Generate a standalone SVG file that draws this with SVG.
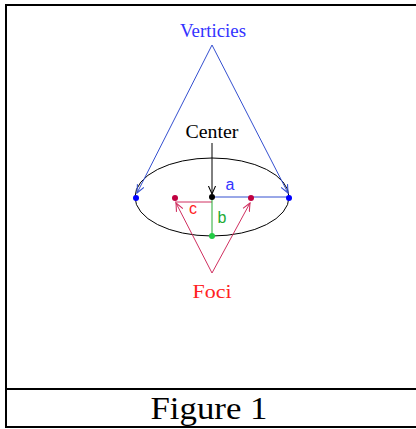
<svg xmlns="http://www.w3.org/2000/svg" width="416" height="429" viewBox="0 0 416 429">
<style>
.serif{font-family:"Liberation Serif","Times New Roman",serif}
.sans{font-family:"Liberation Sans",Arial,sans-serif}
.blue{stroke:#3550d0;fill:none;stroke-width:1}
.red{stroke:#d03060;fill:none;stroke-width:1}
</style>
<defs>
<marker id="ab" viewBox="0 0 10 10" refX="9" refY="5" markerWidth="9" markerHeight="9" orient="auto" markerUnits="userSpaceOnUse"><path d="M0,1 L9,5 L0,9" fill="none" stroke="#3550d0" stroke-width="1.2"/></marker>
<marker id="ar" viewBox="0 0 10 10" refX="9" refY="5" markerWidth="9" markerHeight="9" orient="auto" markerUnits="userSpaceOnUse"><path d="M0,1 L9,5 L0,9" fill="none" stroke="#d03060" stroke-width="1.2"/></marker>
<marker id="ak" viewBox="0 0 10 10" refX="9" refY="5" markerWidth="9" markerHeight="9" orient="auto" markerUnits="userSpaceOnUse"><path d="M0,1 L9,5 L0,9" fill="none" stroke="#000" stroke-width="1.2"/></marker>
</defs>
<rect x="0" y="0" width="416" height="429" fill="#fff"/>
<g id="frame" fill="none" stroke="#000" stroke-width="2">
<path d="M6,428 L6,5 L417,5"/>
<path d="M6,389 L417,389"/>
<path d="M6,427 L417,427"/>
</g>
<g id="ellipse"><ellipse cx="212" cy="197" rx="77" ry="39" fill="none" stroke="#000" stroke-width="1"/></g>
<g id="connectors">
<path class="blue" d="M212,45 L137,193" marker-end="url(#ab)"/>
<path class="blue" d="M212,45 L288,193" marker-end="url(#ab)"/>
<path d="M212,143 L212,194" stroke="#000" fill="none" marker-end="url(#ak)"/>
<path class="red" d="M212,273 L176,203" marker-end="url(#ar)"/>
<path class="red" d="M212,273 L250,203" marker-end="url(#ar)"/>
<path d="M212,197 L289,197" stroke="#3550d0" stroke-width="1"/>
<path d="M175,202 L212,202" stroke="#d03060" stroke-width="1"/>
<path d="M212,197 L212,236" stroke="#22aa33" stroke-width="1"/>
</g>
<g id="verticies"><text class="serif" x="213" y="37" font-size="18" fill="#3333ff" text-anchor="middle" textLength="66" lengthAdjust="spacingAndGlyphs">Verticies</text></g>
<g id="center"><text class="serif" x="212" y="138" font-size="19" fill="#000" text-anchor="middle" textLength="53" lengthAdjust="spacingAndGlyphs">Center</text></g>
<g id="foci"><text class="serif" x="212" y="298" font-size="19" fill="#ff2222" text-anchor="middle" textLength="39" lengthAdjust="spacingAndGlyphs">Foci</text></g>
<g id="points">
<circle cx="136" cy="198" r="3" fill="#0000ff"/>
<circle cx="289" cy="198" r="3" fill="#0000ff"/>
<circle cx="212" cy="197" r="3" fill="#000"/>
<circle cx="175" cy="198" r="3" fill="#c00040"/>
<circle cx="251" cy="198" r="3" fill="#c00040"/>
<circle cx="212" cy="236" r="3" fill="#22cc44"/>
</g>
<g id="labels">
<text class="sans" x="230" y="190" font-size="16" fill="#3333ff" text-anchor="middle">a</text>
<text class="sans" x="193" y="214" font-size="16" fill="#ff2222" text-anchor="middle">c</text>
<text class="sans" x="222" y="223" font-size="16" fill="#22aa33" text-anchor="middle">b</text>
</g>
<g id="caption"><text class="serif" x="209" y="419" font-size="32" fill="#000" text-anchor="middle" textLength="117" lengthAdjust="spacingAndGlyphs">Figure 1</text></g>
</svg>
